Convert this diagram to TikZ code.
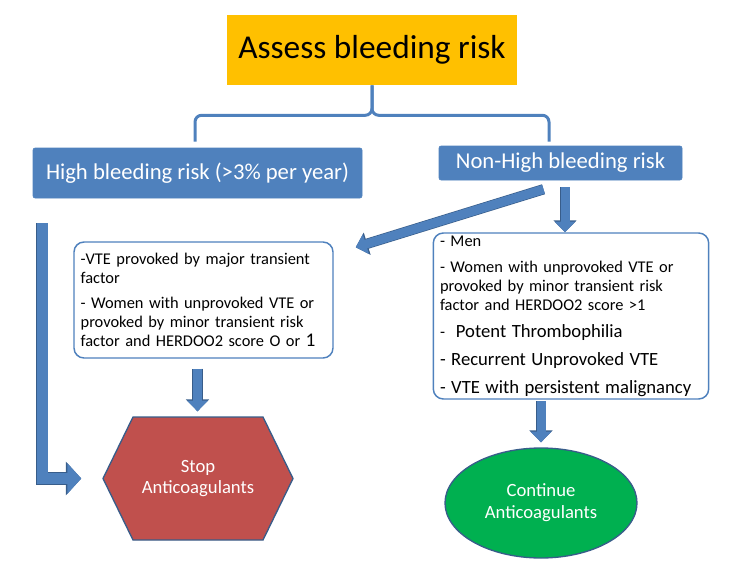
\documentclass[tikz,border=0pt]{standalone}
\usepackage{fontspec}
\setmainfont{Carlito}
\usetikzlibrary{arrows.meta,calc,shapes.geometric,shapes.symbols}
\definecolor{boxblue}{HTML}{4F81BD}
\definecolor{edgeblue}{HTML}{385D8A}
\definecolor{titlegold}{HTML}{FFC000}
\definecolor{stopred}{HTML}{C0504D}
\definecolor{gogreen}{HTML}{00B050}
\tikzset{
	riskbox/.style={fill=boxblue, draw=boxblue, rounded corners=1.5pt, text=white, inner sep=0pt, font=\fontsize{17}{20}\selectfont},
	listbox/.style={draw=boxblue, line width=1.1pt, rounded corners=7.5pt, fill=white, align=left, inner xsep=5pt, inner ysep=1pt, font=\fontsize{12.3}{14.25}\selectfont},
	brace/.style={draw=boxblue, line width=2.25pt, rounded corners=5pt},
	blockarrow/.style={draw=boxblue, line width=6.75pt, -{Triangle[length=8pt,width=15pt]},
		preaction={draw=edgeblue, line width=7.75pt, -{Triangle[length=9pt,width=17pt]}}},
	bigarrow/.style={draw=boxblue, line width=8.25pt, -{Triangle[length=10.5pt,width=22.5pt]},
		preaction={draw=edgeblue, line width=9.25pt, -{Triangle[length=11.5pt,width=24.5pt]}}},
	endshape/.style={draw=edgeblue, line width=1pt, text=white, align=center, font=\fontsize{14}{16.3}\selectfont}
}
\begin{document}
\begin{tikzpicture}[x=0.75pt,y=-0.75pt]
	\useasboundingbox (0,0) rectangle (750,564);
	%title
	\node[fill=titlegold, minimum width=217.5pt, minimum height=52.5pt, font=\fontsize{25}{30}\selectfont] (title) at (372,50) {Assess bleeding risk};
	%risk groups
	\node[riskbox, minimum width=246.75pt, minimum height=37.5pt] (high) at (197.5,173) {High bleeding risk (>3\% per year)};
	\node[riskbox, minimum width=182.25pt, minimum height=25.5pt] (nonhigh) at (560.5,163) {Non-High bleeding risk};
	% brace
	\draw[brace] (title.south) -- ++(0,30) -| ($(high.north)+(-2.5,-6)$);
	\draw[brace] (title.south) -- ++(0,30) -| ($(nonhigh.north)+(-11.5,-4)$);
	%case lists
	\node[listbox, text width=184.25pt, minimum height=87pt] (stopcases) at (203.5,300) {-VTE provoked by major transient\\
		factor\\[4.5pt]
		- Women with unprovoked VTE or\\
		provoked by minor transient risk\\
		factor and HERDOO2 score O or {\fontsize{14.5}{14.25}\selectfont 1}};
	\node[listbox, text width=196.5pt, minimum height=124.5pt] (contcases) at (571,316) {- Men\\[5.25pt]
		- Women with unprovoked VTE or\\
		provoked by minor transient risk\\
		factor and HERDOO2 score >1\\[6pt]
		-\ \ {\fontsize{14}{14.25}\selectfont Potent Thrombophilia}\\[6.75pt]
		{\fontsize{14}{14.25}\selectfont - Recurrent Unprovoked VTE}\\[6.75pt]
		{\fontsize{14}{14.25}\selectfont - VTE with persistent malignancy}};
	%outcomes
	\node[endshape, signal, signal to=west and east, signal pointer angle=128, fill=stopred, minimum width=142.5pt, minimum height=92.25pt] (stop) at (198,478.5) {Stop\\Anticoagulants};
	\node[endshape, ellipse, fill=gogreen, minimum width=144pt, minimum height=82.5pt] (cont) at (541,503) {Continue\\Anticoagulants};
	% arrows
	\coordinate (nhout) at ($(nonhigh.south)+(4.5,7)$);
	\coordinate (scout) at ($(stopcases.south)+(-6,10)$);
	\draw[bigarrow] ($(high.south west)+(9.5,25)$) |- ($(stop.west)+(-21,0)$);
	\draw[blockarrow] ($(nonhigh.south)+(-17,9)$) -- ($(stopcases.north east)+(22,6)$);
	\draw[blockarrow] (nhout) -- (nhout |- contcases.north);
	\draw[blockarrow] (scout) -- ($(scout |- stop.north)+(0,-5)$);
	\draw[blockarrow] ($(cont.north |- contcases.south)+(0,1.5)$) -- ($(cont.north)+(0,-5)$);
\end{tikzpicture}
\end{document}
